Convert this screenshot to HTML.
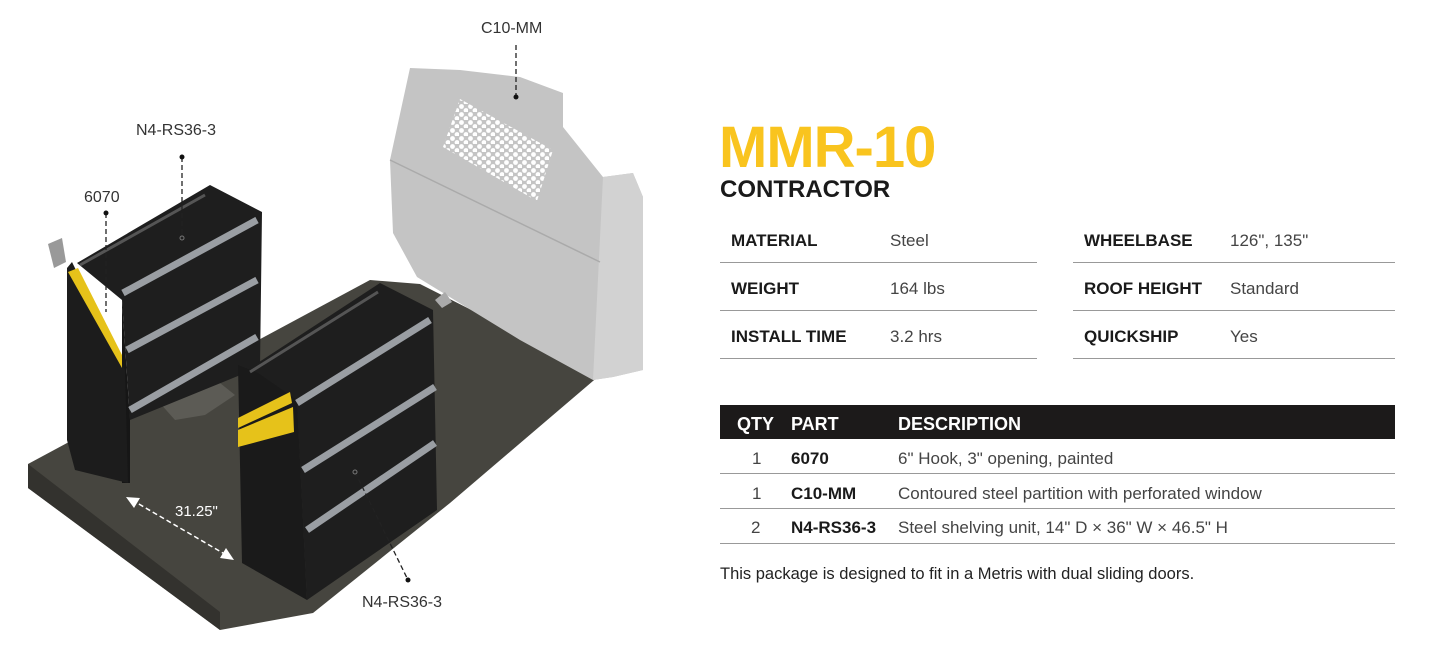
<!DOCTYPE html>
<html><head><style>
body{margin:0;width:1432px;height:659px;background:#fff;font-family:"Liberation Sans",sans-serif;position:relative;overflow:hidden;color:#222}
.a{position:absolute;white-space:nowrap}
.l{font-size:17px;font-weight:bold;color:#1a1a1a}
.v{font-size:17px;color:#444}
.hr{position:absolute;height:1px;background:#999}
.lab{font-size:16px;color:#333}
</style></head><body>
<svg class="a" style="left:0;top:0" width="700" height="659">
<defs>
<pattern id="holes" width="9" height="8" patternUnits="userSpaceOnUse"><circle cx="2.5" cy="2.5" r="2.4" fill="#fff"/><circle cx="7" cy="6.5" r="2.4" fill="#fff"/></pattern>
<clipPath id="win"><polygon points="460,99 553,150 537,201 443,147"/></clipPath>
</defs>
<!-- floor -->
<polygon points="28,464 370,280 420,284 600,375 450,503 313,613 220,630 28,488" fill="#46453f"/>
<polygon points="28,464 220,612 220,630 28,488" fill="#33322e"/>
<polygon points="150,392 210,375 235,395 205,415 175,420" fill="#5c5b55"/>
<!-- partition -->
<polygon points="410,68 460,70 520,77 563,93 563,127 603,177 633,173 643,197 643,370 613,377 593,380 520,340 417,277 393,233 390,160" fill="#c4c4c4"/>
<polygon points="603,177 633,173 643,197 643,370 613,377 593,380" fill="#d2d2d2"/>
<line x1="390" y1="160" x2="600" y2="262" stroke="#aaa" stroke-width="1.5"/>
<rect x="440" y="95" width="116" height="110" fill="url(#holes)" clip-path="url(#win)"/>
<polygon points="435,300 445,292 452,302 442,308" fill="#aaa"/>
<!-- left unit -->
<polygon points="77,263 210,185 262,212 260,367 130,420 122,300" fill="#1e1e1e"/>
<polygon points="122,300 130,420 130,483 122,483" fill="#161616"/>
<polygon points="67,268 72,262 125,370 128,483 75,470 67,440" fill="#1c1c1c"/>
<polygon points="68,272 78,268 122,355 122,368" fill="#e6c21a"/>
<polygon points="48,244 62,238 66,262 54,268" fill="#999"/>
<g stroke="#9a9ea3" stroke-width="7"><line x1="123" y1="293" x2="257" y2="220"/><line x1="127" y1="350" x2="257" y2="280"/><line x1="130" y1="410" x2="257" y2="337"/></g>
<g stroke="#555" stroke-width="3"><line x1="80" y1="265" x2="205" y2="195"/></g>
<!-- right unit -->
<polygon points="247,370 380,283 433,310 437,510 307,600 297,403" fill="#1e1e1e"/>
<polygon points="238,365 258,373 297,400 307,600 242,563" fill="#1a1a1a"/>
<polygon points="238,418 290,392 292,403 238,428" fill="#e6c21a"/>
<polygon points="238,430 293,407 294,432 238,447" fill="#e6c21a"/>
<g stroke="#9a9ea3" stroke-width="7"><line x1="297" y1="403" x2="430" y2="320"/><line x1="303" y1="470" x2="435" y2="387"/><line x1="307" y1="530" x2="435" y2="443"/></g>
<g stroke="#555" stroke-width="3"><line x1="250" y1="372" x2="378" y2="292"/></g>
<!-- leaders -->
<g stroke="#222" stroke-dasharray="5,3" fill="none" stroke-width="1.3">
<line x1="516" y1="45" x2="516" y2="97"/>
<line x1="182" y1="157" x2="182" y2="238"/>
<line x1="106" y1="213" x2="106" y2="312"/>
<line x1="355" y1="472" x2="408" y2="580"/>
</g>
<g stroke="#fff" stroke-dasharray="5,3" stroke-width="1.5"><line x1="132" y1="500" x2="228" y2="556"/></g>
<polygon points="126,497 140,498 134,508" fill="#fff"/><polygon points="234,560 220,558 226,548" fill="#fff"/>
<g fill="#111"><circle cx="516" cy="97" r="2.5"/><circle cx="182" cy="157" r="2.5"/><circle cx="106" cy="213" r="2.5"/><circle cx="408" cy="580" r="2.5"/></g>
<circle cx="182" cy="238" r="2" fill="none" stroke="#777"/><circle cx="355" cy="472" r="2" fill="none" stroke="#777"/>
<text x="175" y="516" font-family="Liberation Sans" font-size="15" fill="#fff">31.25"</text>
</svg>
<div class="a lab" style="left:481px;top:20px">C10-MM</div>
<div class="a lab" style="left:136px;top:122px">N4-RS36-3</div>
<div class="a lab" style="left:84px;top:189px">6070</div>
<div class="a lab" style="left:362px;top:594px">N4-RS36-3</div>

<div class="a" style="left:719px;top:114px;font-size:58px;font-weight:bold;color:#f9c41e;letter-spacing:-1px">MMR-10</div>
<div class="a" style="left:720px;top:176px;font-size:24px;font-weight:bold;color:#1a1a1a">CONTRACTOR</div>

<div class="a l" style="left:731px;top:231px">MATERIAL</div><div class="a v" style="left:890px;top:231px">Steel</div>
<div class="a l" style="left:731px;top:279px">WEIGHT</div><div class="a v" style="left:890px;top:279px">164 lbs</div>
<div class="a l" style="left:731px;top:327px">INSTALL TIME</div><div class="a v" style="left:890px;top:327px">3.2 hrs</div>
<div class="a l" style="left:1084px;top:231px">WHEELBASE</div><div class="a v" style="left:1230px;top:231px">126", 135"</div>
<div class="a l" style="left:1084px;top:279px">ROOF HEIGHT</div><div class="a v" style="left:1230px;top:279px">Standard</div>
<div class="a l" style="left:1084px;top:327px">QUICKSHIP</div><div class="a v" style="left:1230px;top:327px">Yes</div>
<div class="hr" style="left:720px;top:262px;width:317px"></div><div class="hr" style="left:720px;top:310px;width:317px"></div><div class="hr" style="left:720px;top:358px;width:317px"></div>
<div class="hr" style="left:1073px;top:262px;width:322px"></div><div class="hr" style="left:1073px;top:310px;width:322px"></div><div class="hr" style="left:1073px;top:358px;width:322px"></div>

<div class="a" style="left:720px;top:405px;width:675px;height:34px;background:#1c1a1a"></div>
<div class="a" style="left:737px;top:414px;font-size:18px;font-weight:bold;color:#fff">QTY</div>
<div class="a" style="left:791px;top:414px;font-size:18px;font-weight:bold;color:#fff">PART</div>
<div class="a" style="left:898px;top:414px;font-size:18px;font-weight:bold;color:#fff">DESCRIPTION</div>
<div class="a v" style="left:752px;top:449px">1</div><div class="a l" style="left:791px;top:449px">6070</div><div class="a v" style="left:898px;top:449px">6" Hook, 3" opening, painted</div>
<div class="a v" style="left:752px;top:484px">1</div><div class="a l" style="left:791px;top:484px">C10-MM</div><div class="a v" style="left:898px;top:484px">Contoured steel partition with perforated window</div>
<div class="a v" style="left:751px;top:518px">2</div><div class="a l" style="left:791px;top:518px">N4-RS36-3</div><div class="a v" style="left:898px;top:518px">Steel shelving unit, 14" D × 36" W × 46.5" H</div>
<div class="hr" style="left:720px;top:473px;width:675px"></div><div class="hr" style="left:720px;top:508px;width:675px"></div><div class="hr" style="left:720px;top:543px;width:675px"></div>
<div class="a" style="left:720px;top:565px;font-size:16.5px;color:#222">This package is designed to fit in a Metris with dual sliding doors.</div>
</body></html>
